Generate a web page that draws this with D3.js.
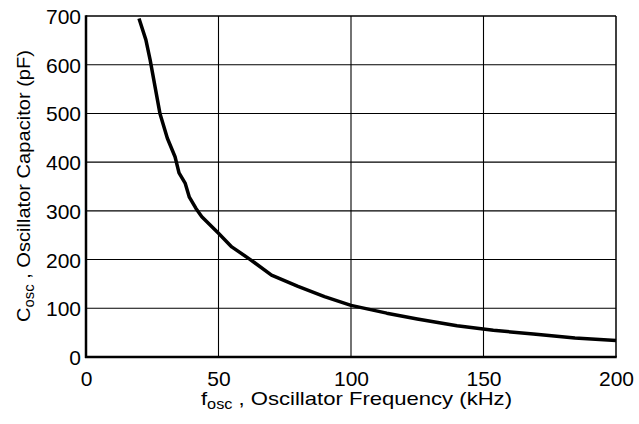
<!DOCTYPE html>
<html><head><meta charset="utf-8">
<script src="https://cdn.jsdelivr.net/npm/d3@7"></script>
<style>body{margin:0;background:#fff}svg{display:block}text{font-family:"Liberation Sans",Arial,sans-serif;fill:#000}</style>
</head><body>
<svg id="c" width="639" height="424"></svg>
<script>
const freq = [20, 22.6, 24.2, 27.9, 30.7, 33.6, 35.1, 37.4, 39, 41.5, 43.7, 50, 55, 62, 70, 80, 90, 100, 113.5, 125, 140, 153.7, 168.8, 184.5, 200];
const cap  = [695, 651, 610, 500, 449, 411, 378, 357, 328, 305, 288, 254, 226, 200, 168, 145, 124, 106, 90, 78, 64, 55, 47, 39, 34];
const xTicks = [0, 50, 100, 150, 200];
const yTicks = [0, 100, 200, 300, 400, 500, 600, 700];

const svg = d3.select("#c");
const L = 86, R = 616, T = 16, B = 357;
const x = d3.scaleLinear().domain([0, 200]).range([L, R]);
const y = d3.scaleLinear().domain([0, 700]).range([B, T]);

// grid
svg.append("g").selectAll("line").data(yTicks.slice(1, -1)).join("line")
  .attr("x1", L).attr("x2", R).attr("y1", d => y(d)).attr("y2", d => y(d))
  .attr("stroke", "#000").attr("stroke-width", 1.1);
svg.append("g").selectAll("line").data(xTicks.slice(1, -1)).join("line")
  .attr("y1", T).attr("y2", B).attr("x1", d => x(d)).attr("x2", d => x(d))
  .attr("stroke", "#000").attr("stroke-width", 1.1);

// frame
svg.append("line").attr("x1", L).attr("x2", R).attr("y1", T).attr("y2", T).attr("stroke", "#000").attr("stroke-width", 1.5);
svg.append("line").attr("x1", R).attr("x2", R).attr("y1", T).attr("y2", B).attr("stroke", "#000").attr("stroke-width", 1.5);
svg.append("line").attr("x1", L).attr("x2", L).attr("y1", T - 0.75).attr("y2", B + 1).attr("stroke", "#000").attr("stroke-width", 2.5);
svg.append("line").attr("x1", L - 1).attr("x2", R + 0.75).attr("y1", B).attr("y2", B).attr("stroke", "#000").attr("stroke-width", 2.5);

// axes labels
const xAxis = d3.axisBottom(x).tickValues(xTicks).tickSize(0).tickPadding(0);
const gx = svg.append("g").attr("transform", `translate(0,${B})`).call(xAxis);
gx.select(".domain").remove();
gx.selectAll("text").attr("font-size", 21).attr("dy", null).attr("y", 29)
  .attr("font-family", "Liberation Sans, Arial, sans-serif").attr("fill", "#000");

const yAxis = d3.axisLeft(y).tickValues(yTicks).tickSize(0).tickPadding(0);
const gy = svg.append("g").attr("transform", `translate(${L - 5},0)`).call(yAxis);
gy.select(".domain").remove();
gy.selectAll("text").attr("font-size", 21).attr("dy", "0.36em").attr("x", 0)
  .attr("font-family", "Liberation Sans, Arial, sans-serif").attr("fill", "#000");

// curve
const pts = freq.map((f, i) => [f, cap[i]]);
svg.append("path").datum(pts)
  .attr("d", d3.line().x(d => x(d[0])).y(d => y(d[1])))
  .attr("fill", "none").attr("stroke", "#000").attr("stroke-width", 3.5).attr("stroke-linejoin", "round");

// titles
const xt = svg.append("text").attr("x", 201).attr("y", 405).attr("font-size", 19)
  .attr("textLength", 311).attr("lengthAdjust", "spacingAndGlyphs");
xt.append("tspan").text("f");
xt.append("tspan").attr("font-size", 14).attr("dy", 4).text("osc");
xt.append("tspan").attr("dy", -4).text(" , Oscillator Frequency (kHz)");

const yt = svg.append("text").attr("transform", `translate(30,322) rotate(-90)`).attr("font-size", 19)
  .attr("textLength", 272).attr("lengthAdjust", "spacingAndGlyphs");
yt.append("tspan").text("C");
yt.append("tspan").attr("font-size", 14).attr("dy", 4).text("osc");
yt.append("tspan").attr("dy", -4).text(" , Oscillator Capacitor (pF)");
</script>
</body></html>
